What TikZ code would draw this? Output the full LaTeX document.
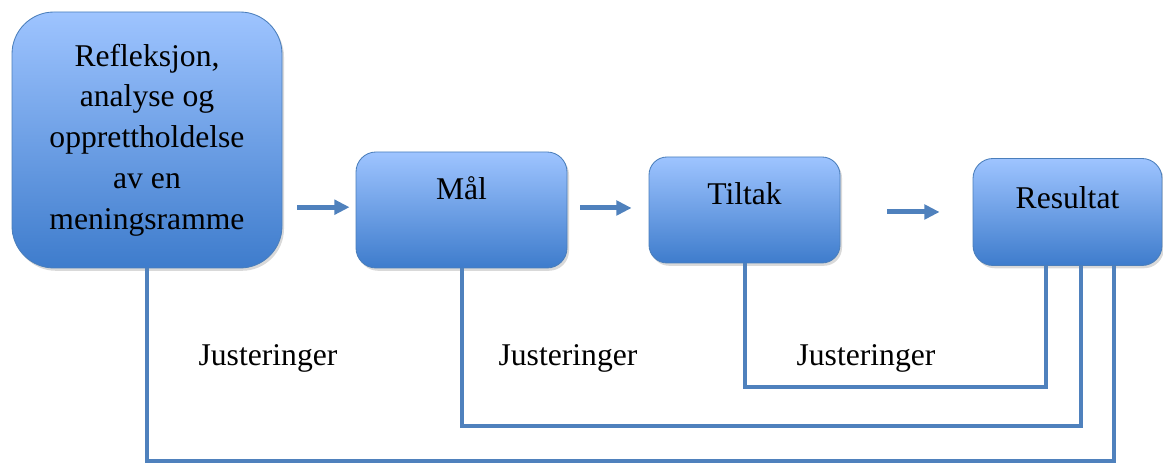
\documentclass[tikz,border=0pt]{standalone}
\usepackage{fontspec}
\setmainfont{Liberation Serif}
\usetikzlibrary{arrows.meta,shadows}
\definecolor{boxtop}{RGB}{158,196,255}
\definecolor{boxbot}{RGB}{62,124,204}
\definecolor{boxline}{RGB}{74,126,187}
\definecolor{fbline}{RGB}{79,129,189}
\begin{document}
\begin{tikzpicture}[>={Triangle[length=0.38cm,width=0.36cm]},
    font=\fontsize{22.5}{29}\selectfont]
  \tikzstyle{block}=[draw=boxline,line width=0.6pt,top color=boxtop,bottom color=boxbot,
      drop shadow={shadow xshift=0.05cm,shadow yshift=-0.07cm,opacity=0.3},
      inner xsep=0pt,inner ysep=0pt]
  \tikzstyle{flow}=[->,draw=fbline,line width=0.125cm]
  \tikzstyle{fb}=[draw=fbline,line width=0.1cm]
  \def\rx{0.34}   % offset of Maal line at Resultat
  \def\ry{1.16}   % offset of Refleksjon line at Resultat
  \useasboundingbox (0,0) rectangle (29.075,11.7);
  \node[block,rounded corners=1.05cm,minimum width=6.75cm,minimum height=6.4cm,align=center]
    (refl) at (3.675,8.2) {Refleksjon,\\analyse og\\opprettholdelse\\av en\\meningsramme};
  \node[block,rounded corners=0.5cm,minimum width=5.275cm,text height=1.2cm,text depth=1.7cm]
    (mal) at (11.5375,6.45) {Mål};
  \node[block,rounded corners=0.45cm,minimum width=4.775cm,text height=1.2cm,text depth=1.45cm]
    (tiltak) at (18.6125,6.45) {Tiltak};
  \node[block,rounded corners=0.5cm,minimum width=4.725cm,text height=1.25cm,text depth=1.425cm]
    (res) at (26.6875,6.4) {Resultat};

  \draw[flow,shorten <=0.375cm,shorten >=0.15cm] (refl.east |- mal.west) ++(0,0.07) -- ([yshift=0.07cm]mal.west);
  \draw[flow,shorten <=0.325cm,shorten >=0.425cm] ([yshift=0.05cm]mal.east) -- ([yshift=0.05cm]mal.east -| tiltak.west);
  \draw[flow,shorten <=1.175cm,shorten >=0.825cm] (tiltak.east |- res.west) -- (res.west);

  % adjustment loops back from Resultat
  \draw[fb] (tiltak.south) -- ++(0,-3.1) -| ([xshift=-0.54cm]res.south);
  \draw[fb] (mal.south) -- ++(0,-3.95) -| ([xshift=\rx cm]res.south);
  \draw[fb] (refl.south) -- ++(0,-4.825) -| ([xshift=\ry cm]res.south);

  \node (just1) at (6.7,2.75) {Justeringer};
  \node (just2) at (14.2,2.75) {Justeringer};
  \node (just3) at (21.65,2.75) {Justeringer};
\end{tikzpicture}
\end{document}
